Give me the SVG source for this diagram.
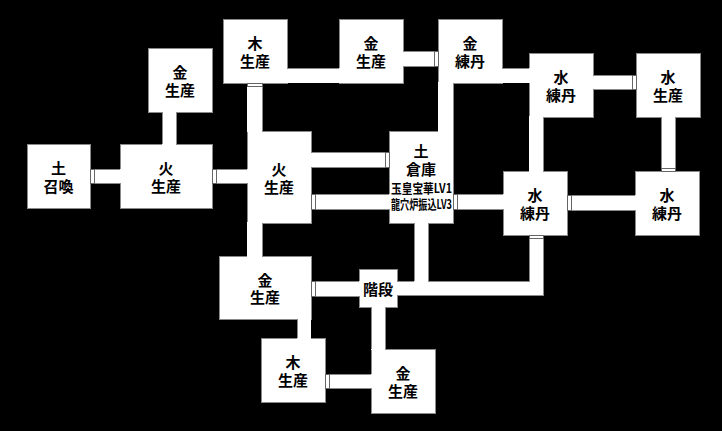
<svg xmlns="http://www.w3.org/2000/svg" width="722" height="431" viewBox="0 0 722 431">
<style>
.bg{fill:#000}
.box{fill:#fff;stroke:#8a8a8a;stroke-width:1;shape-rendering:crispEdges}
.cf{fill:#fff;shape-rendering:crispEdges}
.ce{fill:none;stroke:#8a8a8a;stroke-width:1;shape-rendering:crispEdges}
.door{fill:#fff;stroke:#666;stroke-width:1;shape-rendering:crispEdges}
text{font-family:"Noto Sans CJK JP","Noto Sans CJK SC",sans-serif;font-weight:bold;font-size:15px;fill:#000;text-anchor:middle;dominant-baseline:central}
tspan.sm{font-size:13px}
</style>
<rect class="bg" x="0" y="0" width="722" height="431"/>
<g id="n-tsuchi-shokan"><rect class="box" x="27" y="144" width="63" height="64"/><text x="58.5" y="167.5">土<tspan x="58.5" dy="17">召喚</tspan></text></g>
<g id="n-hi-seisan-1"><rect class="box" x="120" y="144" width="92" height="64"/><text x="166" y="167.5">火<tspan x="166" dy="17">生産</tspan></text></g>
<g id="n-kin-seisan-1"><rect class="box" x="148" y="48" width="64" height="64"/><text x="180" y="71.5">金<tspan x="180" dy="17">生産</tspan></text></g>
<g id="n-ki-seisan-1"><rect class="box" x="223" y="19" width="64" height="64"/><text x="255" y="42.5">木<tspan x="255" dy="17">生産</tspan></text></g>
<g id="n-hi-seisan-2"><rect class="box" x="247" y="131" width="64" height="92"/><text x="279" y="168.5">火<tspan x="279" dy="17">生産</tspan></text></g>
<g id="n-kin-seisan-2"><rect class="box" x="339" y="19" width="64" height="64"/><text x="371" y="42.5">金<tspan x="371" dy="17">生産</tspan></text></g>
<g id="n-kin-rentan"><rect class="box" x="438" y="19" width="64" height="64"/><text x="470" y="42.5">金<tspan x="470" dy="17">練丹</tspan></text></g>
<g id="n-sui-rentan-1"><rect class="box" x="529" y="53" width="64" height="64"/><text x="561" y="76.5">水<tspan x="561" dy="17">練丹</tspan></text></g>
<g id="n-sui-seisan"><rect class="box" x="636" y="53" width="64" height="64"/><text x="668" y="76.5">水<tspan x="668" dy="17">生産</tspan></text></g>
<g id="n-tsuchi-soko"><rect class="box" x="389" y="131" width="64" height="92"/><text x="421" y="150">土<tspan x="421" dy="17.5">倉庫</tspan><tspan class="sm" x="421.5" dy="19" textLength="61" lengthAdjust="spacingAndGlyphs">玉皇宝華LV1</tspan><tspan class="sm" x="421.5" dy="16" textLength="61" lengthAdjust="spacingAndGlyphs">龍穴炉振込LV3</tspan></text></g>
<g id="n-sui-rentan-2"><rect class="box" x="503" y="171" width="64" height="64"/><text x="535" y="194.5">水<tspan x="535" dy="17">練丹</tspan></text></g>
<g id="n-sui-rentan-3"><rect class="box" x="635" y="171" width="64" height="64"/><text x="667" y="194.5">水<tspan x="667" dy="17">練丹</tspan></text></g>
<g id="n-kin-seisan-3"><rect class="box" x="219" y="256" width="92" height="63"/><text x="265" y="279">金<tspan x="265" dy="17">生産</tspan></text></g>
<g id="n-kaidan"><rect class="box" x="359" y="269" width="38" height="38"/><text x="378" y="288">階段</text></g>
<g id="n-ki-seisan-2"><rect class="box" x="261" y="338" width="64" height="64"/><text x="293" y="361.5">木<tspan x="293" dy="17">生産</tspan></text></g>
<g id="n-kin-seisan-4"><rect class="box" x="371" y="349" width="64" height="64"/><text x="403" y="372.5">金<tspan x="403" dy="17">生産</tspan></text></g>
<g id="connectors">
<rect class="cf" x="89" y="169" width="32" height="14"/>
<rect class="cf" x="162" y="111" width="14" height="34"/>
<rect class="cf" x="211" y="169" width="37" height="14"/>
<rect class="cf" x="247" y="82" width="15" height="50"/>
<rect class="cf" x="286" y="68" width="54" height="15"/>
<rect class="cf" x="402" y="51" width="37" height="15"/>
<rect class="cf" x="438" y="82" width="15" height="50"/>
<rect class="cf" x="501" y="68" width="29" height="15"/>
<rect class="cf" x="592" y="75" width="45" height="14"/>
<rect class="cf" x="661" y="116" width="14" height="56"/>
<rect class="cf" x="529" y="116" width="14" height="56"/>
<rect class="cf" x="566" y="195" width="70" height="15"/>
<rect class="cf" x="310" y="152" width="80" height="15"/>
<rect class="cf" x="310" y="194" width="80" height="15"/>
<rect class="cf" x="452" y="194" width="52" height="15"/>
<rect class="cf" x="247" y="222" width="15" height="35"/>
<rect class="cf" x="310" y="281" width="50" height="15"/>
<rect class="cf" x="396" y="281" width="147" height="14"/>
<rect class="cf" x="529" y="234" width="14" height="61"/>
<rect class="cf" x="414" y="222" width="14" height="60"/>
<rect class="cf" x="371" y="306" width="14" height="44"/>
<rect class="cf" x="297" y="318" width="14" height="21"/>
<rect class="cf" x="324" y="374" width="48" height="14"/>
<path class="ce" d="M90,169H120M90,183H120 M162,112V144M176,112V144 M212,169H247M212,183H247 M262,83V131 M287,68H339 M403,51H438M403,66H438 M453,83V131 M502,68H529 M593,75H636M593,89H636 M661,117V171M675,117V171 M543,117V171 M567,195H635M567,210H635 M311,152H389M311,167H389 M311,194H389M311,209H389 M453,194H503M453,209H503 M262,223V256 M311,281H359M311,296H359 M397,281H414M428,281H529V235M543,235V295H397 M414,223V281M428,223V281 M371,307V349M385,307V349 M297,319V338 M325,374H371M325,388H371"/>
<rect class="door" x="90" y="169" width="4" height="14"/>
<rect class="door" x="212" y="169" width="4" height="14"/>
<rect class="door" x="247" y="83" width="15" height="3"/>
<rect class="door" x="434" y="51" width="4" height="15"/>
<rect class="door" x="632" y="75" width="4" height="14"/>
<rect class="door" x="661" y="168" width="14" height="3"/>
<rect class="door" x="385" y="152" width="4" height="15"/>
<rect class="door" x="311" y="194" width="4" height="15"/>
<rect class="door" x="453" y="194" width="4" height="15"/>
<rect class="door" x="567" y="195" width="4" height="15"/>
<rect class="door" x="529" y="235" width="14" height="3"/>
<rect class="door" x="311" y="281" width="4" height="15"/>
<rect class="door" x="325" y="374" width="4" height="14"/>
</g>
</svg>
